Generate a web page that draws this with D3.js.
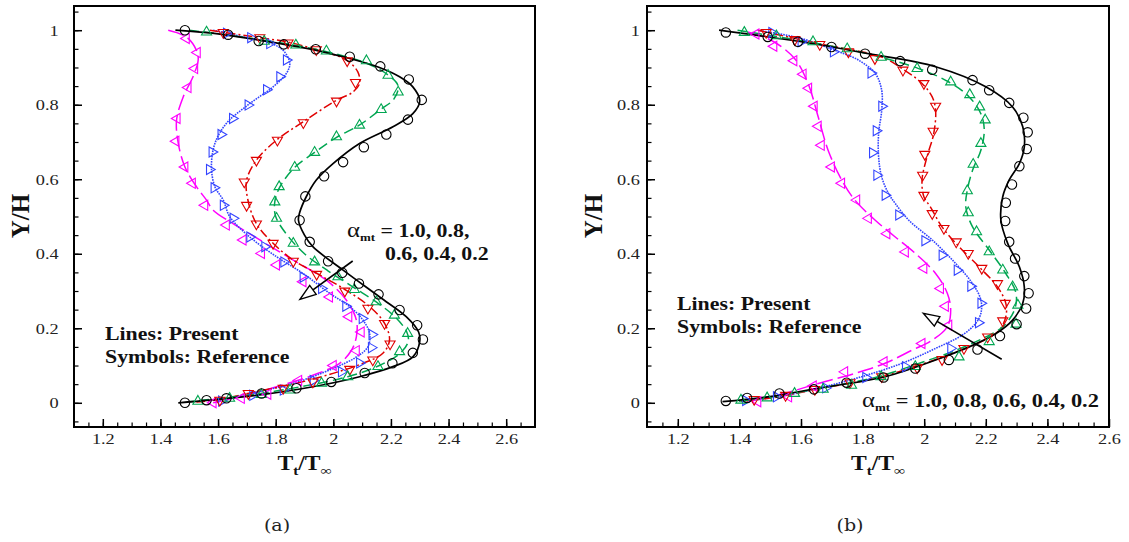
<!DOCTYPE html>
<html><head><meta charset="utf-8">
<script src="https://cdn.jsdelivr.net/npm/d3@7"></script>
<style>body{margin:0;background:#fff;} svg{display:block;font-family:"Liberation Serif","Times New Roman",serif;}</style>
</head><body><svg id="chart" width="1129" height="542"></svg>
<script>
// ---------- data ----------
const alphaValues = ["1.0", "0.8", "0.6", "0.4", "0.2"];
const xTicksA = [1.2, 1.4, 1.6, 1.8, 2, 2.2, 2.4, 2.6];
const xTicksB = [1.2, 1.4, 1.6, 1.8, 2, 2.2, 2.4, 2.6];
const yTicks = [0, 0.2, 0.4, 0.6, 0.8, 1];

// panel (a) lines (present)
const aLine10 = [[1.452,1.0],[1.60,0.99],[1.745,0.973],[1.941,0.946],[2.057,0.924],[2.16,0.90],[2.23,0.875],[2.276,0.848],[2.30,0.81],[2.276,0.776],[2.207,0.741],[2.091,0.696],[1.999,0.642],[1.941,0.598],[1.906,0.553],[1.883,0.51],[1.879,0.49],[1.90,0.45],[1.929,0.419],[2.034,0.356],[2.161,0.284],[2.253,0.231],[2.296,0.19],[2.30,0.165],[2.276,0.123],[2.207,0.097],[2.091,0.07],[1.929,0.043],[1.745,0.021],[1.571,0.007],[1.462,0.0]];
const aLine08 = [[1.50,1.0],[1.65,0.985],[1.85,0.962],[2.0,0.938],[2.12,0.91],[2.19,0.88],[2.225,0.85],[2.21,0.815],[2.16,0.785],[2.09,0.745],[2.01,0.712],[1.935,0.672],[1.866,0.632],[1.815,0.58],[1.797,0.54],[1.80,0.50],[1.84,0.45],[1.90,0.40],[1.98,0.355],[2.07,0.31],[2.15,0.27],[2.215,0.23],[2.255,0.19],[2.26,0.165],[2.235,0.135],[2.16,0.10],[2.05,0.07],[1.90,0.045],[1.72,0.022],[1.56,0.008],[1.50,0.003]];
const aLine06 = [[1.571,1.0],[1.745,0.98],[1.837,0.969],[1.941,0.948],[2.045,0.92],[2.085,0.888],[2.091,0.857],[2.068,0.834],[2.011,0.812],[1.895,0.754],[1.803,0.705],[1.733,0.651],[1.699,0.597],[1.704,0.543],[1.733,0.481],[1.791,0.428],[1.861,0.383],[1.953,0.343],[2.045,0.302],[2.126,0.258],[2.178,0.213],[2.195,0.168],[2.172,0.133],[2.103,0.106],[1.999,0.079],[1.87,0.052],[1.72,0.028],[1.60,0.008],[1.525,0.002]];
const aLine04 = [[1.583,1.0],[1.70,0.98],[1.768,0.969],[1.826,0.946],[1.849,0.911],[1.837,0.884],[1.791,0.848],[1.71,0.803],[1.629,0.75],[1.589,0.696],[1.577,0.633],[1.589,0.58],[1.618,0.544],[1.641,0.499],[1.71,0.445],[1.803,0.392],[1.895,0.347],[1.987,0.294],[2.057,0.258],[2.103,0.222],[2.126,0.186],[2.12,0.15],[2.08,0.123],[1.999,0.092],[1.86,0.052],[1.687,0.021],[1.595,0.005]];
const aLine02 = [[1.427,1.0],[1.49,0.982],[1.525,0.946],[1.531,0.92],[1.513,0.875],[1.479,0.821],[1.456,0.759],[1.462,0.696],[1.485,0.633],[1.525,0.58],[1.56,0.544],[1.583,0.517],[1.652,0.481],[1.745,0.437],[1.861,0.383],[1.976,0.329],[2.045,0.276],[2.08,0.222],[2.08,0.177],[2.063,0.141],[2.022,0.106],[1.929,0.074],[1.803,0.043],[1.675,0.016],[1.583,0.0]];
// panel (a) symbols (reference)
const aSym10 = [[1.485,1.0],[1.635,0.988],[1.741,0.971],[1.828,0.962],[1.939,0.949],[2.057,0.929],[2.163,0.903],[2.262,0.868],[2.307,0.813],[2.259,0.76],[2.184,0.72],[2.106,0.686],[2.034,0.646],[1.968,0.608],[1.903,0.554],[1.883,0.49],[1.918,0.432],[1.982,0.38],[2.031,0.349],[2.089,0.32],[2.157,0.291],[2.23,0.249],[2.291,0.208],[2.311,0.17],[2.276,0.134],[2.205,0.106],[2.109,0.08],[1.993,0.056],[1.872,0.039],[1.751,0.025],[1.629,0.012],[1.56,0.007],[1.485,0.0]];
const aSym08 = [[1.56,0.995],[1.76,0.97],[1.87,0.96],[1.976,0.944],[2.115,0.918],[2.19,0.879],[2.225,0.834],[2.166,0.787],[2.091,0.745],[2.011,0.714],[1.935,0.672],[1.866,0.632],[1.812,0.58],[1.797,0.539],[1.803,0.495],[1.861,0.428],[1.935,0.378],[2.016,0.338],[2.073,0.304],[2.149,0.271],[2.212,0.235],[2.258,0.186],[2.23,0.137],[2.155,0.097],[2.05,0.07],[1.959,0.052],[1.85,0.034],[1.75,0.022],[1.64,0.012],[1.53,0.004]];
const aSym06 = [[1.618,0.994],[1.745,0.98],[1.843,0.966],[1.941,0.948],[2.048,0.918],[2.077,0.86],[2.011,0.81],[1.896,0.752],[1.806,0.705],[1.733,0.651],[1.691,0.593],[1.699,0.53],[1.733,0.48],[1.791,0.428],[1.861,0.38],[1.942,0.345],[2.04,0.30],[2.12,0.254],[2.178,0.213],[2.197,0.158],[2.137,0.115],[2.057,0.09],[1.929,0.056],[1.826,0.039],[1.705,0.025],[1.606,0.007]];
const aSym04 = [[1.629,0.992],[1.713,0.98],[1.779,0.964],[1.837,0.92],[1.814,0.875],[1.768,0.84],[1.704,0.799],[1.65,0.763],[1.61,0.72],[1.579,0.673],[1.57,0.626],[1.586,0.577],[1.618,0.53],[1.652,0.495],[1.71,0.445],[1.762,0.419],[1.828,0.378],[1.895,0.337],[1.959,0.307],[2.043,0.259],[2.10,0.226],[2.134,0.183],[2.132,0.148],[2.091,0.107],[2.028,0.083],[1.93,0.06],[1.826,0.034],[1.72,0.02],[1.612,0.005]];
const aSym02 = [[1.49,0.978],[1.528,0.94],[1.519,0.897],[1.496,0.846],[1.458,0.763],[1.454,0.702],[1.485,0.633],[1.511,0.589],[1.554,0.53],[1.629,0.477],[1.687,0.437],[1.751,0.401],[1.803,0.37],[1.895,0.325],[1.987,0.284],[2.054,0.231],[2.097,0.19],[2.08,0.14],[2.0,0.1],[1.88,0.06],[1.773,0.023],[1.681,0.012],[1.583,0.0]];

// panel (b) lines (present)
const bLine10 = [[1.334,1.0],[1.601,0.969],[1.819,0.937],[2.037,0.902],[2.20,0.848],[2.287,0.794],[2.32,0.741],[2.325,0.687],[2.309,0.642],[2.276,0.598],[2.255,0.553],[2.249,0.49],[2.271,0.428],[2.309,0.365],[2.325,0.311],[2.32,0.267],[2.287,0.222],[2.233,0.186],[2.146,0.15],[2.037,0.115],[1.873,0.07],[1.656,0.039],[1.492,0.016],[1.345,0.003]];
const bLine08 = [[1.394,1.0],[1.60,0.972],[1.80,0.94],[1.982,0.897],[2.08,0.861],[2.146,0.821],[2.184,0.776],[2.195,0.732],[2.184,0.678],[2.157,0.624],[2.14,0.571],[2.135,0.526],[2.157,0.472],[2.211,0.41],[2.265,0.347],[2.298,0.294],[2.293,0.249],[2.255,0.204],[2.20,0.177],[2.10,0.14],[1.98,0.105],[1.85,0.07],[1.65,0.037],[1.50,0.015],[1.39,0.003]];
const bLine06 = [[1.46,1.0],[1.65,0.965],[1.862,0.928],[1.928,0.897],[1.993,0.857],[2.026,0.821],[2.037,0.785],[2.031,0.723],[2.009,0.66],[1.993,0.598],[1.999,0.553],[2.02,0.526],[2.058,0.472],[2.113,0.419],[2.178,0.365],[2.238,0.311],[2.265,0.267],[2.265,0.231],[2.244,0.195],[2.20,0.17],[2.10,0.135],[1.98,0.1],[1.85,0.068],[1.65,0.036],[1.50,0.013],[1.40,0.003]];
const bLine04 = [[1.459,1.0],[1.60,0.978],[1.71,0.946],[1.786,0.92],[1.841,0.884],[1.862,0.839],[1.862,0.785],[1.852,0.723],[1.852,0.66],[1.862,0.606],[1.884,0.562],[1.906,0.535],[1.95,0.49],[2.026,0.437],[2.102,0.374],[2.157,0.32],[2.184,0.276],[2.184,0.24],[2.167,0.213],[2.124,0.182],[2.037,0.146],[1.928,0.106],[1.797,0.07],[1.656,0.039],[1.52,0.015],[1.405,0.004]];
const bLine02 = [[1.427,0.995],[1.503,0.973],[1.579,0.924],[1.623,0.857],[1.656,0.767],[1.688,0.678],[1.732,0.598],[1.775,0.544],[1.841,0.49],[1.906,0.445],[1.971,0.401],[2.037,0.347],[2.075,0.294],[2.086,0.249],[2.075,0.204],[2.026,0.168],[1.96,0.141],[1.873,0.106],[1.775,0.079],[1.656,0.052],[1.546,0.025],[1.448,0.007]];
// panel (b) symbols (reference)
const bSym10 = [[1.356,0.994],[1.492,0.982],[1.59,0.969],[1.699,0.955],[1.808,0.937],[1.922,0.917],[2.026,0.894],[2.157,0.866],[2.211,0.839],[2.276,0.805],[2.322,0.765],[2.336,0.726],[2.333,0.681],[2.309,0.635],[2.285,0.586],[2.265,0.537],[2.263,0.488],[2.276,0.432],[2.295,0.387],[2.325,0.34],[2.339,0.294],[2.331,0.253],[2.30,0.211],[2.246,0.179],[2.173,0.143],[2.08,0.115],[1.971,0.092],[1.868,0.068],[1.748,0.054],[1.642,0.036],[1.53,0.025],[1.425,0.013],[1.356,0.005]];
const bSym08 = [[1.416,0.994],[1.52,0.985],[1.639,0.969],[1.75,0.95],[1.86,0.927],[1.977,0.897],[2.086,0.861],[2.148,0.827],[2.18,0.794],[2.198,0.759],[2.184,0.696],[2.159,0.64],[2.14,0.569],[2.143,0.51],[2.17,0.459],[2.211,0.405],[2.255,0.356],[2.287,0.311],[2.304,0.262],[2.298,0.211],[2.211,0.164],[2.113,0.123],[1.971,0.097],[1.86,0.07],[1.764,0.047],[1.672,0.036],[1.579,0.025],[1.49,0.013],[1.405,0.007]];
const bSym06 = [[1.487,0.994],[1.58,0.975],[1.661,0.962],[1.754,0.942],[1.84,0.924],[1.931,0.893],[1.999,0.857],[2.037,0.796],[2.029,0.729],[2.002,0.667],[1.995,0.611],[1.999,0.557],[2.026,0.508],[2.064,0.468],[2.104,0.432],[2.143,0.401],[2.187,0.361],[2.238,0.32],[2.263,0.267],[2.255,0.22],[2.206,0.177],[2.129,0.146],[2.058,0.116],[1.977,0.094],[1.862,0.07],[1.759,0.054],[1.645,0.036],[1.55,0.02],[1.448,0.009]];
const bSym04 = [[1.505,0.994],[1.60,0.969],[1.705,0.942],[1.827,0.885],[1.862,0.796],[1.844,0.73],[1.832,0.671],[1.846,0.611],[1.873,0.557],[1.917,0.504],[2.002,0.435],[2.058,0.396],[2.107,0.356],[2.151,0.313],[2.184,0.267],[2.176,0.215],[2.086,0.146],[1.939,0.097],[1.81,0.068],[1.68,0.04],[1.52,0.016],[1.42,0.006]];
const bSym02 = [[1.454,0.99],[1.512,0.957],[1.577,0.918],[1.607,0.882],[1.625,0.844],[1.643,0.796],[1.656,0.742],[1.666,0.691],[1.699,0.633],[1.732,0.589],[1.781,0.544],[1.819,0.495],[1.879,0.454],[1.939,0.405],[1.999,0.361],[2.053,0.307],[2.069,0.259],[2.08,0.208],[1.993,0.159],[1.87,0.11],[1.742,0.083],[1.64,0.045],[1.56,0.016],[1.46,0.003]];

// ---------- styles ----------
const styles = [
  {color:"#000000", dash:null,          sym:"circle", rot:0,   w:1.7},
  {color:"#00a651", dash:"10,5",        sym:"tri",    rot:0,   w:1.5},
  {color:"#e00000", dash:"9,3,2,3",     sym:"tri",    rot:180, w:1.5},
  {color:"#3344ff", dash:"1.6,1.0",     sym:"tri",    rot:90,  w:1.6},
  {color:"#ff00ff", dash:"16,5",        sym:"tri",    rot:-90, w:1.5}
];
const SX = 1.18; // horizontal text stretch of the original figure

const svg = d3.select("#chart");

function stext(g, x, y, opts) {
  const t = g.append("text")
    .attr("transform", `translate(${x},${y}) scale(${opts.sx || SX},1)`)
    .attr("text-anchor", opts.anchor || "start")
    .style("font-size", (opts.size || 18) + "px")
    .style("font-weight", opts.bold ? "bold" : "normal")
    .attr("fill", "#111");
  return t;
}

function panel(cfg) {
  const g = svg.append("g");
  const x = d3.scaleLinear().domain(cfg.xdom).range([cfg.x0, cfg.x1]);
  const y = d3.scaleLinear().domain([-0.065, 1.065]).range([427, 6]);

  // minor ticks
  const minorX = d3.range(Math.round(cfg.xdom[0]*20)+1, Math.round(cfg.xdom[1]*20)).map(d => d/20);
  const minorY = d3.range(-1, 22).map(d => d/20);
  g.append("g").attr("transform", "translate(0,427)")
    .call(d3.axisBottom(x).tickValues(minorX).tickSizeInner(-4.5).tickSizeOuter(0).tickFormat(""))
    .call(s => s.select(".domain").remove())
    .selectAll("line").attr("stroke", "#000").attr("stroke-width", 1.2);
  g.append("g").attr("transform", `translate(${cfg.x0},0)`)
    .call(d3.axisLeft(y).tickValues(minorY).tickSizeInner(-4.5).tickSizeOuter(0).tickFormat(""))
    .call(s => s.select(".domain").remove())
    .selectAll("line").attr("stroke", "#000").attr("stroke-width", 1.2);
  // major ticks
  const fmt = d => String(+d.toFixed(1));
  const xa = g.append("g").attr("transform", "translate(0,427)")
    .call(d3.axisBottom(x).tickValues(cfg.xticks).tickSizeInner(-8).tickSizeOuter(0).tickPadding(6).tickFormat(fmt));
  xa.select(".domain").remove();
  xa.selectAll("line").attr("stroke", "#000").attr("stroke-width", 1.5);
  xa.selectAll("text").style("font-family", "'Liberation Serif',serif").style("font-size", "15.5px").attr("fill", "#222")
    .attr("transform", `scale(${SX},1)`);
  const ya = g.append("g").attr("transform", `translate(${cfg.x0},0)`)
    .call(d3.axisLeft(y).tickValues(yTicks).tickSizeInner(-8).tickSizeOuter(0).tickPadding(cfg.ypad).tickFormat(fmt));
  ya.select(".domain").remove();
  ya.selectAll("line").attr("stroke", "#000").attr("stroke-width", 1.5);
  ya.selectAll("text").style("font-family", "'Liberation Serif',serif").style("font-size", "15.5px").attr("fill", "#222")
    .attr("transform", `scale(${SX},1)`);

  // lines
  const line = d3.line().x(d => x(d[0])).y(d => y(d[1])).curve(d3.curveCatmullRom.alpha(0.5));
  const order = [4, 3, 2, 1, 0];
  order.forEach(i => {
    const st = styles[i];
    g.append("path").datum(cfg.lines[i])
      .attr("d", line).attr("fill", "none")
      .attr("stroke", st.color).attr("stroke-width", st.w)
      .attr("stroke-dasharray", st.dash);
  });
  // symbols
  order.forEach(i => {
    const st = styles[i];
    const sym = st.sym === "circle" ? d3.symbol().type(d3.symbolCircle).size(70)
                                    : d3.symbol().type(d3.symbolTriangle).size(44);
    g.append("g").selectAll("path").data(cfg.syms[i]).join("path")
      .attr("d", sym)
      .attr("transform", d => `translate(${x(d[0])},${y(d[1])}) rotate(${st.rot})`)
      .attr("fill", "none").attr("stroke", st.color).attr("stroke-width", 1.1);
  });

  // frame
  g.append("rect").attr("x", cfg.x0).attr("y", 6).attr("width", cfg.x1 - cfg.x0).attr("height", 421)
    .attr("fill", "none").attr("stroke", "#000").attr("stroke-width", 2);

  // axis titles
  const yl = g.append("text")
    .attr("transform", `translate(${cfg.ylabx},216) rotate(-90)`)
    .attr("text-anchor", "middle").style("font-size", "25px").style("font-weight", "bold").attr("fill", "#111");
  yl.text("Y/H");
  const cx = (cfg.x0 + cfg.x1) / 2;
  const xl = stext(g, cx, 470, {anchor: "middle", size: 20, bold: true});
  xl.append("tspan").text("T");
  xl.append("tspan").attr("dy", 5).style("font-size", "13px").text("t");
  xl.append("tspan").attr("dy", -5).text("/T");
  xl.append("tspan").attr("dy", 5).style("font-size", "13px").text("∞");

  // annotation: legend text
  stext(g, cfg.legX, cfg.legY, {size: 18.5, bold: true}).text("Lines: Present");
  stext(g, cfg.legX, cfg.legY + 22.7, {size: 18.5, bold: true}).text("Symbols: Reference");

  // alpha label
  cfg.alphaLines.forEach((ln, k) => {
    const t = stext(g, ln.x, ln.y, {size: ln.size || 18.5, bold: true});
    if (ln.alpha) {
      t.append("tspan").style("font-weight", "normal").style("font-size", "21px").text("α");
      t.append("tspan").attr("dy", 4).style("font-size", "11px").text("mt");
      t.append("tspan").attr("dy", -4).text(" = " + ln.text);
    } else {
      t.text(ln.text);
    }
  });

  // arrow
  const [ax1, ay1, ax2, ay2] = cfg.arrow;
  const ang = Math.atan2(ay2 - ay1, ax2 - ax1);
  const hl = 16, hw = 5.5;
  const bx = ax2 - hl * Math.cos(ang), by = ay2 - hl * Math.sin(ang);
  g.append("line").attr("x1", ax1).attr("y1", ay1).attr("x2", bx).attr("y2", by)
    .attr("stroke", "#000").attr("stroke-width", 1.6);
  g.append("path")
    .attr("d", `M${ax2},${ay2}L${bx + hw*Math.sin(ang)},${by - hw*Math.cos(ang)}L${bx - hw*Math.sin(ang)},${by + hw*Math.cos(ang)}Z`)
    .attr("fill", "#fff").attr("stroke", "#000").attr("stroke-width", 1.4);

  // caption
  g.append("text").attr("transform", `translate(${cfg.capX},531) scale(1.12,1)`).attr("text-anchor", "middle")
    .style("font-family", "'DejaVu Serif',serif").style("font-size", "17px").attr("fill", "#222").text(cfg.cap);
}

panel({
  xdom: [1.1, 2.7], x0: 74, x1: 535, xticks: xTicksA, ypad: 13, ylabx: 29,
  lines: [aLine10, aLine08, aLine06, aLine04, aLine02],
  syms: [aSym10, aSym08, aSym06, aSym04, aSym02],
  legX: 105, legY: 340,
  alphaLines: [{x: 347, y: 237, alpha: true, text: alphaValues.slice(0,2).join(", ") + ","},
               {x: 385, y: 260, alpha: false, text: alphaValues.slice(2).join(", ")}],
  arrow: [352.7, 261, 300, 299.3],
  capX: 277, cap: "(a)"
});
panel({
  xdom: [1.1, 2.6], x0: 647, x1: 1109, xticks: xTicksB, ypad: 6, ylabx: 602,
  lines: [bLine10, bLine08, bLine06, bLine04, bLine02],
  syms: [bSym10, bSym08, bSym06, bSym04, bSym02],
  legX: 677, legY: 310,
  alphaLines: [{x: 862, y: 407, alpha: true, size: 19, text: alphaValues.join(", ")}],
  arrow: [1001.7, 359.3, 923.3, 313.3],
  capX: 850, cap: "(b)"
});
</script>
</body></html>
